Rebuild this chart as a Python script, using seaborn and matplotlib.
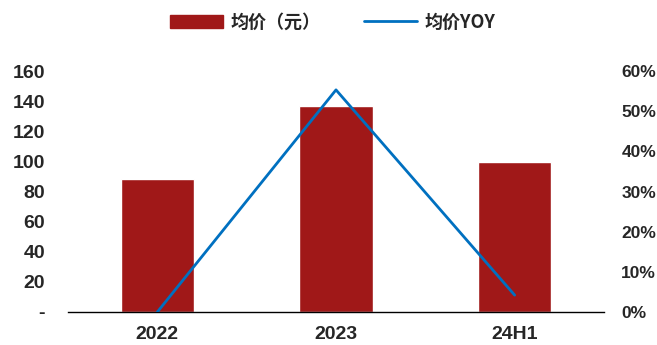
import matplotlib
matplotlib.use("Agg")
import matplotlib.pyplot as plt
import seaborn as sns
import pandas as pd
from matplotlib.patches import Patch
from matplotlib.lines import Line2D
from matplotlib.ticker import FuncFormatter

categories = ["2022", "2023", "24H1"]
avg_price = [88, 136.5, 99.3]
price_yoy = [0.0, 0.553, 0.042]
left_ticks = [0, 20, 40, 60, 80, 100, 120, 140, 160]
right_ticks = [0, 0.1, 0.2, 0.3, 0.4, 0.5, 0.6]

sns.set_style("white")
plt.rcParams['font.family'] = ['Liberation Sans', 'Noto Sans CJK SC', 'DejaVu Sans']

bar_color = "#A01818"
line_color = "#0070C0"

df = pd.DataFrame({"cat": categories, "price": avg_price, "yoy": price_yoy})

fig = plt.figure(figsize=(6.57, 3.45), dpi=100)
ax = fig.add_axes([68/657, 1-312/345, 536/657, (312-71)/345])
sns.barplot(data=df, x="cat", y="price", color=bar_color, width=0.41,
            saturation=1, ax=ax)
ax.set_xlim(-0.5, 2.5)
ax.set_ylim(0, 160)
ax.set_yticks(left_ticks)
ax.set_yticklabels(["-" if v == 0 else str(v) for v in left_ticks])
ax.set_xlabel("")
ax.set_ylabel("")

ax2 = ax.twinx()
sns.lineplot(data=df, x="cat", y="yoy", color=line_color, linewidth=2,
             sort=False, ax=ax2)
ax2.set_ylim(0, 0.6)
ax2.set_yticks(right_ticks)
ax2.yaxis.set_major_formatter(FuncFormatter(lambda v, p: f"{v*100:.0f}%"))
ax2.set_xlim(-0.5, 2.5)
ax2.set_ylabel("")
ax2.set_xlabel("")

for a in (ax, ax2):
    for s in ["top", "right", "left"]:
        a.spines[s].set_visible(False)
    a.spines["bottom"].set_visible(a is ax)
ax.spines["bottom"].set_color("black")
ax.spines["bottom"].set_linewidth(1)

# x ticks at category boundaries
ax.set_xticks([-0.5, 0.5, 1.5, 2.5], minor=False)
ax.set_xticklabels([])
ax.set_xticks([0, 1, 2], minor=True)
ax.set_xticklabels(categories, minor=True)
ax.tick_params(axis="x", which="major", direction="in", length=5, width=1, color="black")
ax.tick_params(axis="x", which="minor", length=0, pad=10, labelsize=14)
ax.tick_params(axis="y", length=0, pad=16.5, labelsize=14)
ax2.tick_params(axis="y", length=0, pad=12.5, labelsize=12.5)
for lab in ax.get_xticklabels(minor=True) + ax.get_yticklabels() + ax2.get_yticklabels():
    lab.set_fontweight("bold")

handles = [Patch(facecolor=bar_color, edgecolor=bar_color),
           Line2D([0], [0], color=line_color, linewidth=2)]
fig.legend(handles, ["均价（元）", "均价YOY"], loc="center", bbox_to_anchor=(333/657, 1-22/345),
           ncol=2, frameon=False, handlelength=2.9, handleheight=0.7, handletextpad=0.45,
           columnspacing=2.4, prop={"family": ["Noto Sans CJK SC", "DejaVu Sans"], "size": 13, "weight": "bold"})

fig.savefig("out.png", dpi=100)
